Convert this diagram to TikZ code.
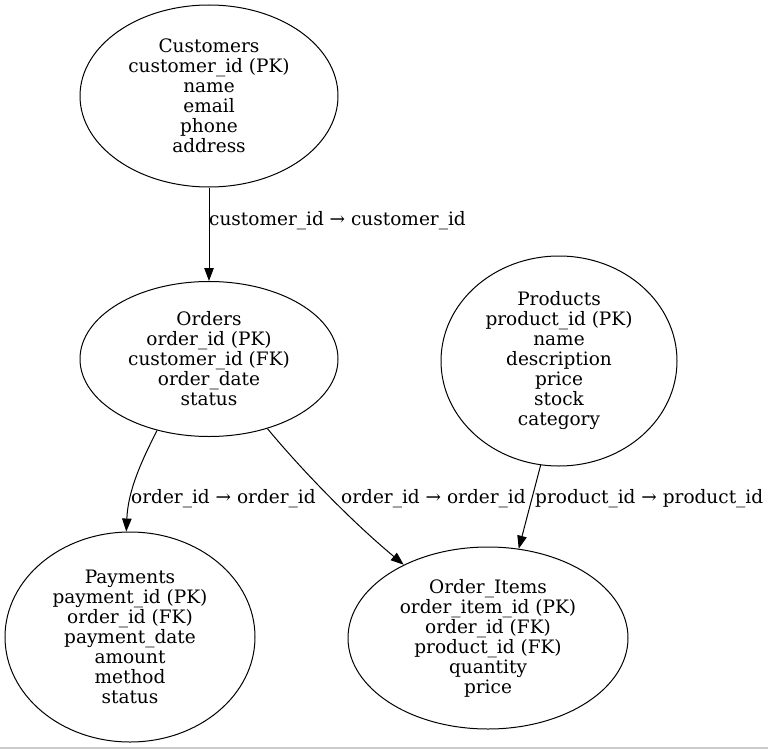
\documentclass[tikz,border=0pt]{standalone}
\usepackage{fontspec}
\setmainfont{DejaVu Serif}
\usetikzlibrary{shapes.geometric,arrows.meta}
\begin{document}
\begin{tikzpicture}[x=1pt,y=-1pt,
  ent/.style={draw,ellipse,line width=1pt,inner sep=0pt,align=center,
    font=\fontsize{18.5}{20}\selectfont},
  lab/.style={anchor=base west,inner sep=0pt,font=\fontsize{18.5}{20}\selectfont},
  rel/.style={line width=1pt,-{Triangle[length=13pt,width=9.5pt]}}]
\useasboundingbox (0,0) rectangle (768,749);
\draw[gray!40,line width=1.2pt] (0,748) -- (768,748);
\node[ent,minimum width=258,minimum height=182] (cust) at (209,96)
  {Customers\\customer\_id (PK)\\name\\email\\phone\\address};
\node[ent,minimum width=258,minimum height=155] (ord) at (209,359)
  {Orders\\order\_id (PK)\\customer\_id (FK)\\order\_date\\status};
\node[ent,minimum width=236,minimum height=210] (prod) at (559,361)
  {Products\\product\_id (PK)\\name\\description\\price\\stock\\category};
\node[ent,minimum width=250,minimum height=210] (pay) at (130,637)
  {Payments\\payment\_id (PK)\\order\_id (FK)\\payment\_date\\amount\\method\\status};
\node[ent,minimum width=280,minimum height=182] (oi) at (488,638)
  {Order\_Items\\order\_item\_id (PK)\\order\_id (FK)\\product\_id (FK)\\quantity\\price};
\draw[rel] (cust.south) -- (ord.north);
\draw[rel] (ord.234.5) .. controls (142,460) and (128,490) .. (pay.92.7);
\draw[rel] (ord.-50.4) .. controls (300,468) and (350,520) .. (oi.139.7);
\draw[rel] (prod.260.2) -- (oi.71.6);
\node[lab] (l1) at (209,225) {customer\_id → customer\_id};
\node[lab] (l2) at (131,503) {order\_id → order\_id};
\node[lab] (l3) at (341,503) {order\_id → order\_id};
\node[lab] (l4) at (535,503) {product\_id → product\_id};
\end{tikzpicture}
\end{document}
